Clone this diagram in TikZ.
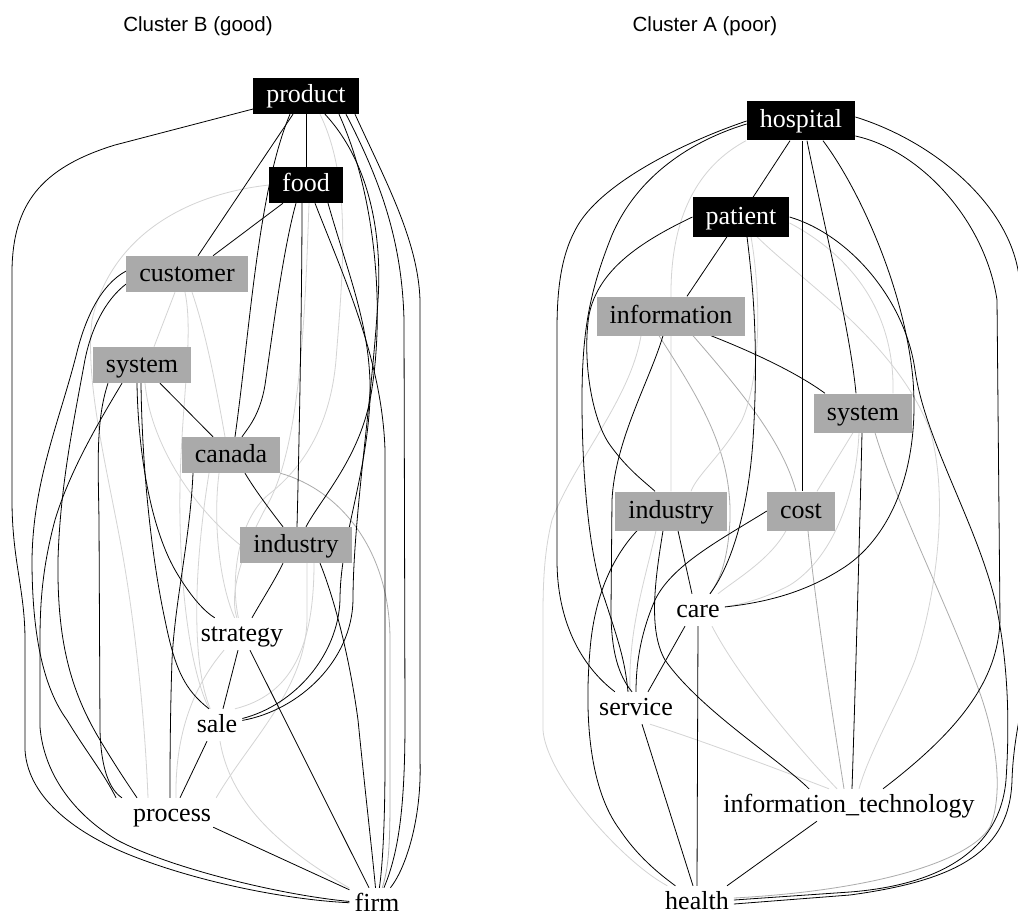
\documentclass[tikz,border=0pt]{standalone}
\usepackage{fontspec}
\setmainfont{Liberation Serif}
\newfontfamily\titlefont{Liberation Sans}
\pgfdeclarelayer{back}
\pgfdeclarelayer{bg}
\pgfsetlayers{back,bg,main}
\definecolor{boxgray}{RGB}{170,170,170}
\definecolor{lgc}{RGB}{212,212,212}
\definecolor{mgc}{RGB}{172,172,172}
\tikzset{
 lbl/.style={font=\fontsize{26}{26}\selectfont, inner sep=0pt, text height=18pt, text depth=4pt},
 blkL/.style={lbl, fill=black, text=white, minimum height=36pt, inner xsep=13pt},
 gryL/.style={lbl, fill=boxgray, text=black, minimum height=36pt, inner xsep=13pt},
 blkR/.style={lbl, fill=black, text=white, minimum height=39pt, inner xsep=13pt},
 gryR/.style={lbl, fill=boxgray, text=black, minimum height=39pt, inner xsep=13pt},
 txtnode/.style={lbl, inner sep=5pt},
 edk/.style={draw=black, line width=0.8pt},
 lge/.style={draw=lgc, line width=0.8pt},
 mge/.style={draw=mgc, line width=0.8pt},
 ttl/.style={font=\titlefont\fontsize{20.5}{20.5}\selectfont}
}
\begin{document}
\begin{tikzpicture}[x=1pt,y=-1pt]
\useasboundingbox (0,0) rectangle (1018,915);
\begin{pgfonlayer}{back}
\fill[white] (0,0) rectangle (1018,915);
\end{pgfonlayer}

\node[ttl] (tB) at (198,26) {Cluster B (good)};
\node[ttl] (tA) at (705,26) {Cluster A (poor)};

% ---- left cluster nodes
\node[blkL] (product) at (306,96) {product};
\node[blkL] (food) at (306,185) {food};
\node[gryL] (customer) at (187,274) {customer};
\node[gryL] (systemL) at (142,365) {system};
\node[gryL] (canada) at (231,455) {canada};
\node[gryL] (industryL) at (296,545) {industry};
\node[txtnode] (strategy) at (242,634) {strategy};
\node[txtnode] (sale) at (217,725) {sale};
\node[txtnode] (process) at (172,814) {process};
\node[txtnode] (firm) at (377,904) {firm};

% ---- right cluster nodes
\node[blkR] (hospital) at (801,121) {hospital};
\node[blkR] (patient) at (741,217) {patient};
\node[gryR] (information) at (671,316) {information};
\node[gryR] (systemR) at (863,413) {system};
\node[gryR] (industryR) at (671,511) {industry};
\node[gryR] (cost) at (801,511) {cost};
\node[txtnode] (care) at (698,610) {care};
\node[txtnode] (service) at (636,708) {service};
\node[txtnode] (infotech) at (849,805) {information\_technology};
\node[txtnode] (health) at (697,902) {health};

\begin{pgfonlayer}{bg}
% ===== left light / mid gray
\draw[lge] ([xshift=14pt]product.south) .. controls (352,180) and (343,270) .. (336,360) .. controls (330,430) and (300,470) .. (268,495) .. controls (238,520) and (230,580) .. (strategy);
\draw[lge] ([xshift=3pt]food.south) .. controls (305,320) and (300,440) .. (270,500) .. controls (245,545) and (228,590) .. (strategy);
\draw[lge] (food.west) .. controls (180,195) and (110,240) .. (92,320) .. controls (85,380) and (105,460) .. (120,540) .. controls (135,620) and (145,720) .. ([xshift=-24pt]process.north);
\draw[lge] ([xshift=-12pt]customer.south) -- ([xshift=12pt]systemL.north);
\draw[lge] ([xshift=5pt]customer.south) .. controls (205,330) and (215,380) .. ([xshift=-6pt]canada.north);
\draw[lge] ([xshift=-2pt]customer.south) .. controls (195,340) and (178,420) .. (180,520) .. controls (182,620) and (195,680) .. (sale);
\draw[lge] ([xshift=3pt]systemL.south) .. controls (150,440) and (190,505) .. (industryL.west);
\draw[mge] (canada.south east) .. controls (340,490) and (390,550) .. (390,640) -- (390,800) .. controls (390,850) and (388,870) .. (firm);
\draw[lge] ([xshift=-12pt]canada.south) .. controls (212,530) and (222,590) .. (strategy);
\draw[lge] ([xshift=-22pt]canada.south) .. controls (195,560) and (190,660) .. (sale);
\draw[lge] ([xshift=3pt]sale.south) .. controls (230,800) and (275,845) .. (firm);
\draw[lge] (process.north east) .. controls (250,740) and (305,690) .. (307,620) -- ([xshift=11pt]industryL.south);
\draw[lge] ([xshift=18pt]sale.north) .. controls (290,695) and (314,650) .. ([xshift=18pt]industryL.south);
\draw[lge] ([xshift=-18pt]strategy.south) .. controls (190,690) and (175,740) .. ([xshift=4pt]process.north);

% ===== right light / mid gray
\draw[lge] ([xshift=-55pt]hospital.south) .. controls (710,160) and (672,200) .. (671,290) -- (industryR.north);
\draw[lge] ([xshift=-30pt]information.south) .. controls (630,400) and (575,460) .. (552,520) .. controls (542,560) and (543,600) .. (543,640) -- (543,730) .. controls (546,775) and (620,860) .. (health);
\draw[mge] ([xshift=-12pt]information.south) .. controls (700,400) and (732,450) .. (730,520) .. controls (728,560) and (720,580) .. (care);
\draw[mge] ([xshift=22pt]information.south) .. controls (740,390) and (782,440) .. ([xshift=-5pt]cost.north);
\draw[lge] ([xshift=10pt]patient.south) .. controls (762,300) and (760,380) .. (742,420) .. controls (722,455) and (697,475) .. ([xshift=20pt]industryR.north);
\draw[lge] ([xshift=16pt]patient.south) .. controls (800,280) and (895,340) .. (930,430) .. controls (950,500) and (935,600) .. (915,660) .. controls (900,700) and (870,750) .. ([xshift=10pt]infotech.north);
\draw[lge] ([yshift=-6pt]patient.east) .. controls (850,255) and (895,310) .. ([xshift=30pt]systemR.north);
\draw[lge] ([xshift=-10pt]systemR.south) -- ([xshift=16pt]cost.north);
\draw[lge] ([xshift=-4pt]systemR.south) .. controls (856,500) and (830,560) .. (790,585) .. controls (762,600) and (738,605) .. (care);
\draw[mge] ([xshift=12pt]systemR.south) .. controls (895,500) and (945,600) .. (975,680) .. controls (995,730) and (1005,790) .. (990,827) .. controls (970,860) and (880,890) .. ([yshift=4pt]health.east);
\draw[lge] ([xshift=-15pt]cost.south) .. controls (770,560) and (735,580) .. (care);
\draw[mge] ([xshift=7pt]cost.south) .. controls (815,600) and (830,700) .. ([xshift=-5pt]infotech.north);
\draw[lge] ([xshift=14pt]care.south) .. controls (740,680) and (800,750) .. ([xshift=-12pt]infotech.north);
\draw[lge] ([xshift=14pt]service.south) .. controls (700,740) and (780,770) .. ([xshift=-20pt]infotech.north);
\draw[lge] ([xshift=-15pt]industryR.south) .. controls (645,580) and (628,630) .. ([xshift=-6pt]service.north);

% ===== left black
\draw[edk] ([yshift=-13pt]product.west) -- (115,145) .. controls (40,168) and (13,205) .. (12,270) -- (12,500) .. controls (12,560) and (25,590) .. (25,640) -- (25,750) .. controls (28,800) and (80,835) .. (130,855) .. controls (200,883) and (290,900) .. (firm);
\draw[edk] ([xshift=-13pt]product.south) -- ([xshift=11pt]customer.north);
\draw[edk] ([xshift=-16pt]product.south) .. controls (258,190) and (250,330) .. ([xshift=4pt]canada.north);
\draw[edk] (product) -- (food);
\draw[edk] ([xshift=19pt]product.south) .. controls (372,165) and (382,240) .. (378,300) .. controls (372,400) and (353,520) .. (353,600) .. controls (352,660) and (300,710) .. (sale);
\draw[edk] ([xshift=33pt]product.south) .. controls (378,200) and (385,320) .. (370,400) .. controls (358,460) and (320,500) .. ([xshift=10pt]industryL.north);
\draw[edk] ([xshift=40pt]product.south) .. controls (380,180) and (402,240) .. (404,320) -- (405,720) .. controls (405,800) and (400,850) .. (firm);
\draw[edk] ([xshift=49pt]product.south) .. controls (385,180) and (418,240) .. (420,300) -- (420,760) .. controls (422,820) and (405,870) .. (firm);
\draw[edk] ([xshift=-23pt]food.south) -- ([xshift=26pt]customer.north);
\draw[edk] ([xshift=-10pt]food.south) .. controls (283,250) and (273,330) .. (265,385) .. controls (260,415) and (248,428) .. ([xshift=11pt]canada.north);
\draw[edk] ([xshift=-4pt]food.south) .. controls (302,300) and (299,450) .. ([xshift=1pt]industryL.north);
\draw[edk] ([xshift=22pt]food.south) .. controls (350,280) and (372,330) .. (370,400) .. controls (366,480) and (340,540) .. (340,600) .. controls (338,655) and (295,705) .. (sale);
\draw[edk] ([xshift=9pt]food.south) .. controls (345,280) and (382,360) .. (385,450) -- (385,760) .. controls (385,830) and (382,870) .. (firm);
\draw[edk] ([xshift=24pt]industryL.south) .. controls (335,600) and (350,660) .. (358,720) .. controls (366,800) and (372,850) .. (firm);
\draw[edk] ([xshift=8pt]strategy.south) -- ([xshift=-8pt]firm.north);
\draw[edk] ([xshift=-13pt]industryL.south) .. controls (275,580) and (262,600) .. ([xshift=10pt]strategy.north);
\draw[edk] ([xshift=14pt]canada.south) .. controls (255,490) and (270,510) .. ([xshift=-13pt]industryL.north);
\draw[edk] ([xshift=18pt]systemL.south) -- ([xshift=-18pt]canada.north);
\draw[edk] ([xshift=-5pt]systemL.south) .. controls (138,450) and (150,530) .. (178,575) .. controls (192,598) and (205,612) .. (strategy);
\draw[edk] ([xshift=-1pt]systemL.south) .. controls (142,470) and (152,560) .. (165,620) .. controls (175,670) and (185,690) .. ([xshift=-8pt]sale.north);
\draw[edk] ([xshift=-34pt]systemL.south) .. controls (96,420) and (98,460) .. (99,520) -- (100,730) .. controls (101,770) and (110,790) .. ([xshift=-50pt]process.north);
\draw[edk] ([xshift=-20pt]systemL.south) .. controls (100,420) and (70,470) .. (55,520) .. controls (43,565) and (40,600) .. (40,640) -- (40,727) .. controls (44,775) and (75,815) .. (117,840) .. controls (170,868) and (280,895) .. (firm);
\draw[edk] ([yshift=3pt]customer.west) .. controls (100,285) and (85,320) .. (77,352) .. controls (60,420) and (33,480) .. (32,560) .. controls (32,640) and (45,690) .. (67,720) .. controls (85,750) and (105,775) .. ([xshift=-56pt]process.north);
\draw[edk] ([yshift=-10pt]customer.west) .. controls (105,300) and (90,330) .. (84,365) .. controls (72,430) and (60,490) .. (58,560) .. controls (57,640) and (70,690) .. (100,740) .. controls (115,765) and (125,780) .. ([xshift=-35pt]process.north);
\draw[edk] ([xshift=-38pt]canada.south) .. controls (190,540) and (175,600) .. (172,660) .. controls (170,720) and (170,770) .. ([xshift=-2pt]process.north);
\draw[edk] ([xshift=-4pt]strategy.south) -- ([xshift=6pt]sale.north);
\draw[edk] ([xshift=-10pt]sale.south) -- ([xshift=8pt]process.north);
\draw[edk] ([xshift=-3pt,yshift=3pt]process.south east) -- ([yshift=-2pt]firm.north west);

% ===== right black
\draw[edk] (hospital.west) .. controls (690,140) and (605,180) .. (578,225) .. controls (562,252) and (557,285) .. (557,330) -- (557,560) .. controls (557,620) and (580,665) .. (service);
\draw[edk] ([yshift=-3pt]hospital.west) .. controls (700,138) and (640,170) .. (612,235) .. controls (590,290) and (582,330) .. (582,400) .. controls (582,480) and (590,560) .. (605,600) .. controls (618,640) and (625,660) .. ([xshift=-8pt]service.north);
\draw[edk] ([xshift=-11pt]hospital.south) -- ([xshift=12pt]patient.north);
\draw[edk] ([xshift=1pt]hospital.south) -- ([xshift=1pt]cost.north);
\draw[edk] ([xshift=6pt]hospital.south) .. controls (825,230) and (850,330) .. ([xshift=-7pt]systemR.north);
\draw[edk] ([xshift=22pt]hospital.south) .. controls (860,190) and (905,290) .. (913,380) .. controls (920,470) and (890,540) .. (840,570) .. controls (800,595) and (760,603) .. (care);
\draw[edk] ([yshift=-15pt]hospital.east) .. controls (920,150) and (985,220) .. (997,300) -- (1000,620) .. controls (998,680) and (960,730) .. ([xshift=34pt]infotech.north);
\draw[edk] ([yshift=4pt]hospital.east) .. controls (930,140) and (1005,200) .. (1018,270) .. controls (1028,320) and (1032,380) .. (1032,450) -- (1032,620) .. controls (1032,680) and (1014,720) .. (1012,780) .. controls (1010,850) and (960,880) .. (850,895) -- ([yshift=-2pt]health.east);
\draw[edk] ([xshift=-14pt]patient.south) -- ([xshift=16pt]information.north);
\draw[edk] (patient.west) .. controls (640,242) and (598,270) .. (589,315) .. controls (582,360) and (592,420) .. (610,445) .. controls (628,470) and (645,482) .. ([xshift=-16pt]industryR.north);
\draw[edk] ([xshift=6pt]patient.south) .. controls (755,300) and (758,360) .. (753,440) .. controls (749,500) and (735,560) .. (care);
\draw[edk] (patient.east) .. controls (850,235) and (905,300) .. (915,370) .. controls (925,440) and (975,520) .. (995,600) .. controls (1008,660) and (1010,720) .. (1006,780) .. controls (1000,850) and (940,885) .. (850,892) -- ([yshift=2pt]health.east);
\draw[edk] ([xshift=40pt]information.south) .. controls (760,355) and (800,375) .. ([xshift=-38pt]systemR.north);
\draw[edk] ([xshift=-8pt]information.south) .. controls (650,380) and (615,440) .. (612,500) -- (611,610) .. controls (611,650) and (618,675) .. ([xshift=-4pt]service.north);
\draw[edk] ([xshift=-34pt]industryR.south) .. controls (610,560) and (594,600) .. (590,650) .. controls (584,720) and (590,790) .. (620,830) .. controls (640,860) and (665,878) .. (health);
\draw[edk] ([xshift=-8pt]industryR.south) .. controls (655,580) and (648,630) .. (665,660) .. controls (700,710) and (780,760) .. ([xshift=-40pt]infotech.north);
\draw[edk] ([xshift=7pt]industryR.south) -- ([xshift=-6pt]care.north);
\draw[edk] (cost.west) .. controls (720,540) and (672,565) .. (655,600) .. controls (642,630) and (636,660) .. (service.north);
\draw[edk] ([xshift=-1pt]systemR.south) .. controls (860,520) and (855,700) .. ([xshift=3pt]infotech.north);
\draw[edk] (care.south) -- (health.north);
\draw[edk] ([xshift=-13pt]care.south) -- ([xshift=12pt]service.north);
\draw[edk] ([xshift=6pt]service.south) -- ([xshift=-4pt]health.north);
\draw[edk] ([xshift=-32pt]infotech.south) -- ([xshift=30pt]health.north);
\end{pgfonlayer}
\end{tikzpicture}
\end{document}
